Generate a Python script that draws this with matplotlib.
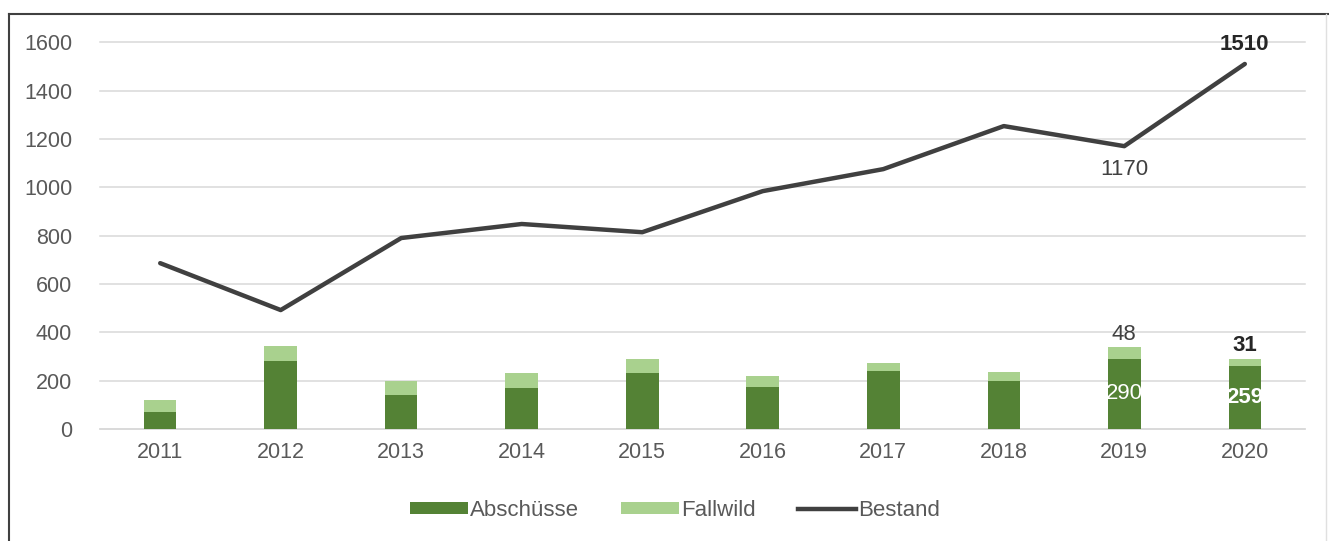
import matplotlib.pyplot as plt
from matplotlib.lines import Line2D
from matplotlib.patches import Patch

plt.rcParams['font.family'] = ['Liberation Sans', 'DejaVu Sans']

years = ['2011', '2012', '2013', '2014', '2015', '2016', '2017', '2018', '2019', '2020']
abschuesse = [70, 282, 140, 168, 230, 175, 238, 200, 290, 259]
fallwild = [52, 60, 60, 63, 58, 45, 35, 36, 48, 31]
bestand = [686, 492, 790, 848, 814, 984, 1075, 1253, 1170, 1510]

dark_green = '#548235'
light_green = '#a9d18e'
line_col = '#404040'
text_col = '#595959'

fig = plt.figure(figsize=(13.29, 5.41), dpi=100)
ax = fig.add_axes([0.0752, 0.207, 0.9068, 0.715])

x = list(range(len(years)))
ax.bar(x, abschuesse, width=0.27, color=dark_green, zorder=3)
ax.bar(x, fallwild, width=0.27, bottom=abschuesse, color=light_green, zorder=3)
ax.plot(x, bestand, color=line_col, linewidth=3.2, solid_capstyle='round', zorder=4)

ax.set_xlim(-0.5, len(years) - 0.5)
ax.set_ylim(0, 1600)
ax.set_yticks(range(0, 1601, 200))
ax.set_xticks(x)
ax.set_xticklabels(years)
ax.grid(axis='y', color='#d9d9d9', linewidth=1.1, zorder=0)
for gl in ax.get_ygridlines():
    gl.set_clip_on(False)
ax.tick_params(length=0, labelsize=15.5, labelcolor=text_col, pad=9)
ax.tick_params(axis='y', pad=20)
for side in ['top', 'right', 'left']:
    ax.spines[side].set_visible(False)
ax.spines['bottom'].set_color('#d9d9d9')
ax.spines['bottom'].set_linewidth(1.1)

# value labels for the last two years
i19, i20 = 8, 9
ax.text(i19, abschuesse[i19] + fallwild[i19] + 10, str(fallwild[i19]),
        ha='center', va='bottom', fontsize=16, color='#404040')
ax.text(i20, abschuesse[i20] + fallwild[i20] + 10, str(fallwild[i20]),
        ha='center', va='bottom', fontsize=16, color='#262626', fontweight='bold')
ax.text(i19, abschuesse[i19] * 0.51, str(abschuesse[i19]),
        ha='center', va='center', fontsize=16, color='white')
ax.text(i20, abschuesse[i20] * 0.51, str(abschuesse[i20]),
        ha='center', va='center', fontsize=16, color='white', fontweight='bold')
ax.text(i19, bestand[i19] - 55, str(bestand[i19]),
        ha='center', va='top', fontsize=16, color='#404040')
ax.text(i20, bestand[i20] + 35, str(bestand[i20]),
        ha='center', va='bottom', fontsize=16, color='#262626', fontweight='bold')

handles = [
    Patch(facecolor=dark_green, label='Abschüsse'),
    Patch(facecolor=light_green, label='Fallwild'),
    Line2D([0], [0], color=line_col, linewidth=3.2, label='Bestand'),
]
fig.legend(handles=handles, loc='center', bbox_to_anchor=(0.508, 0.057), ncol=3,
           frameon=False, fontsize=16, labelcolor=text_col,
           handlelength=2.6, handleheight=0.45, handletextpad=0.1, columnspacing=1.9)

# outer frame
fig.add_artist(Line2D([0.0068, 0.0068], [0, 0.974], color='#404040', linewidth=1.5,
                      transform=fig.transFigure))
fig.add_artist(Line2D([0.0068, 1], [0.974, 0.974], color='#404040', linewidth=1.5,
                      transform=fig.transFigure))
fig.add_artist(Line2D([0.998, 0.998], [0, 0.974], color='#e0e0e0', linewidth=1,
                      transform=fig.transFigure))

fig.savefig('out.png', dpi=100)
